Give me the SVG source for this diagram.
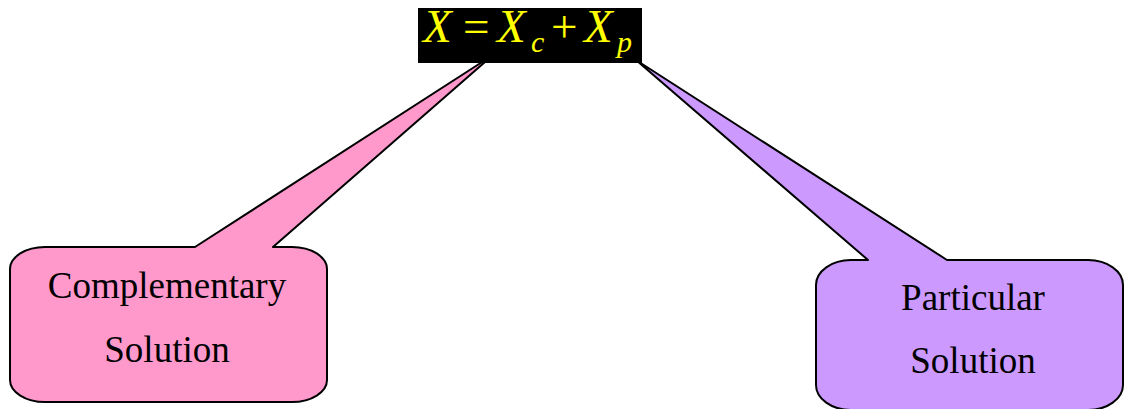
<svg xmlns="http://www.w3.org/2000/svg" width="1125" height="409" viewBox="0 0 1125 409">
<style>
.call{stroke:#000;stroke-width:2;stroke-linejoin:round}
.lbl{font-family:"Liberation Serif","Times New Roman",serif;font-size:37px;fill:#000;text-anchor:middle}
.eq{font-family:"Liberation Serif","Times New Roman",serif;fill:#FFFF00}
</style>
<rect width="1125" height="409" fill="#fff"/>
<g id="equation">
<rect x="418" y="8" width="224" height="55" fill="#000"/>
<text class="eq" font-size="47" font-style="italic" x="423" y="42">X</text>
<text class="eq" font-size="47" x="463" y="42">=</text>
<text class="eq" font-size="47" font-style="italic" x="497" y="42">X</text>
<text class="eq" font-size="30" font-style="italic" x="531" y="52">c</text>
<text class="eq" font-size="47" x="551" y="42">+</text>
<text class="eq" font-size="47" font-style="italic" x="584" y="42">X</text>
<text class="eq" font-size="30" font-style="italic" x="617" y="52">p</text>
</g>
<g id="connectors">
<path class="call" fill="#FF99CC" d="M45,247 L195,247 L493,55 L273,247 L292,247 A35,22 0 0 1 327,269 L327,380 A35,22 0 0 1 292,402 L45,402 A35,22 0 0 1 10,380 L10,269 A35,22 0 0 1 45,247 Z"/>
<path class="call" fill="#CC99FF" d="M851,260 L868,260 L636,60 L947,260 L1088,260 A35,25 0 0 1 1123,285 L1123,385 A35,25 0 0 1 1088,410 L851,410 A35,25 0 0 1 816,385 L816,285 A35,25 0 0 1 851,260 Z"/>
</g>
<g id="complementary">
<text class="lbl" x="167" y="298">Complementary</text>
<text class="lbl" x="167" y="362">Solution</text>
</g>
<g id="particular">
<text class="lbl" x="973" y="310">Particular</text>
<text class="lbl" x="973" y="373">Solution</text>
</g>
</svg>
